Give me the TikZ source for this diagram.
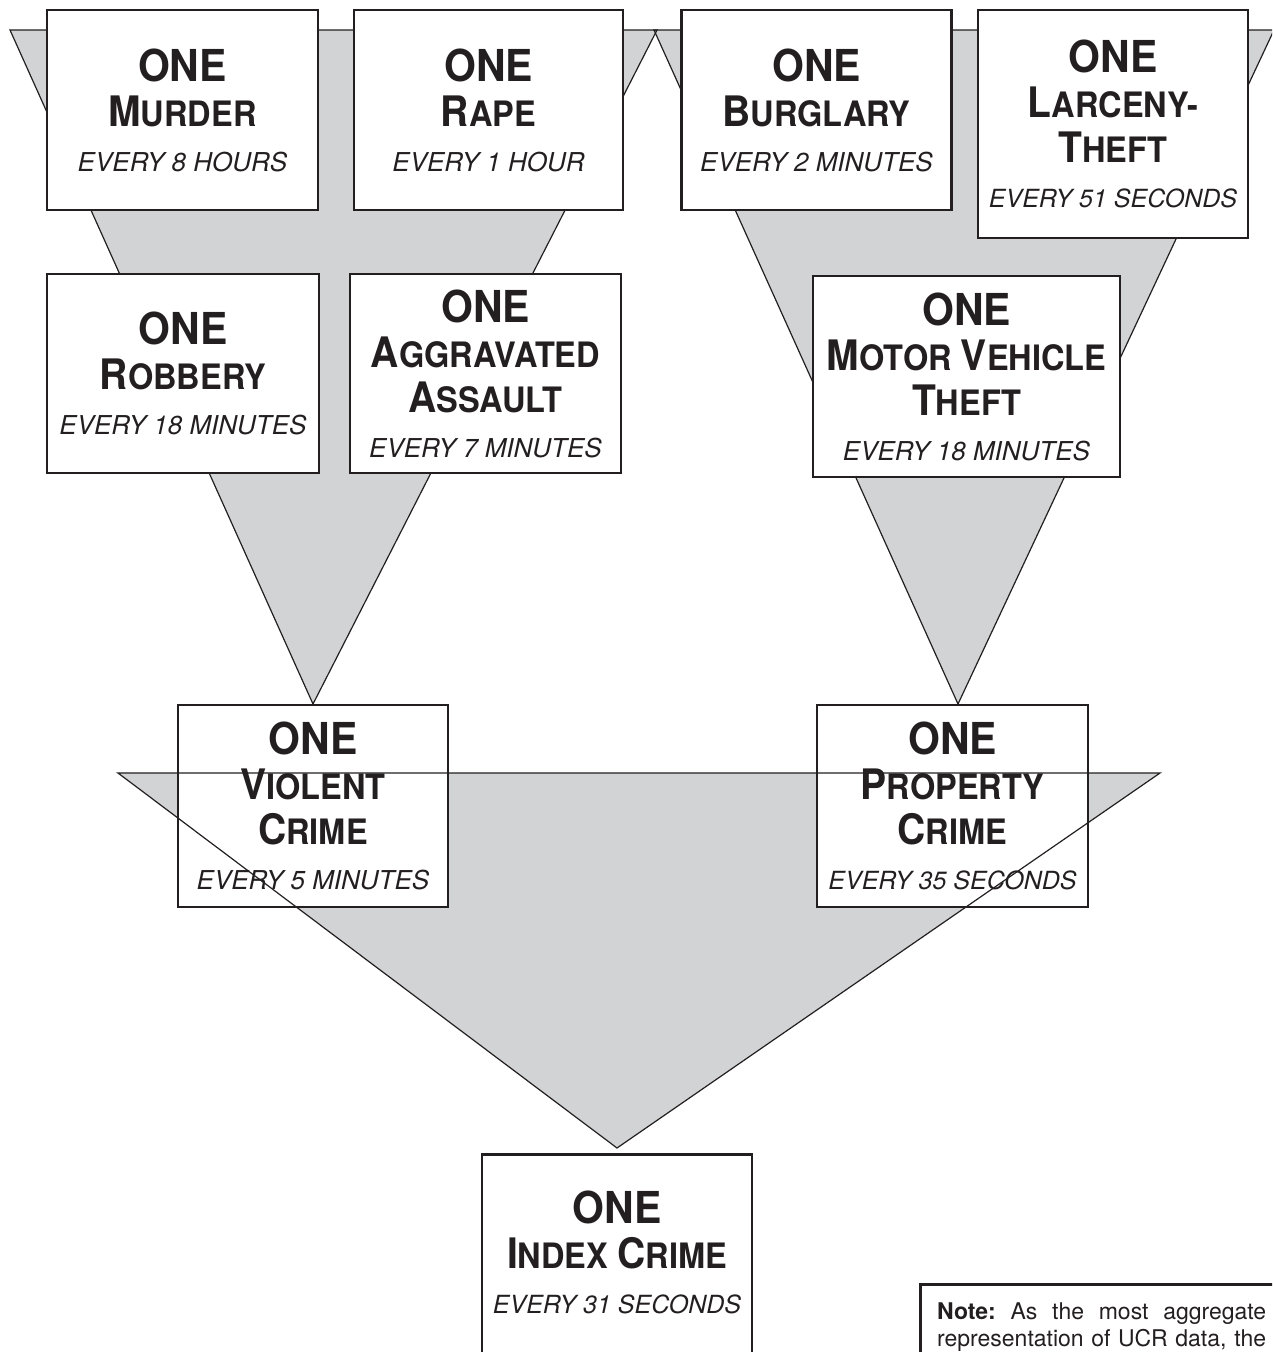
\documentclass[tikz,border=0pt]{standalone}
\usepackage{fontspec}
\setmainfont{TeX Gyre Heros}
\newfontfamily\condfont{TeX Gyre Heros}[FakeStretch=0.93]
\definecolor{fgray}{RGB}{209,211,212}
\definecolor{ink}{RGB}{35,31,32}
\newcommand{\ONE}{{\condfont\bfseries\fontsize{44}{45}\selectfont ONE}}
\newcommand{\SC}[2]{{\condfont\bfseries\fontsize{42}{45}\selectfont #1\fontsize{35}{45}\selectfont #2}}
\newcommand{\EV}[1]{{\itshape\fontsize{26}{45}\selectfont #1}}
\newcommand{\EVS}[1]{{\itshape\fontsize{25}{45}\selectfont #1}}
\tikzset{
  crimebox/.style={draw=ink, line width=2.5pt, fill=white, inner sep=0pt,
    align=center, font=\fontsize{26}{45}\selectfont, text=ink},
  funnelfill/.style={fill=fgray},
  funneledge/.style={draw=ink, line width=1.2pt},
  boxtext/.style={inner sep=0pt, align=center, font=\fontsize{26}{45}\selectfont, text=ink}
}
\begin{document}
\begin{tikzpicture}[x=1pt,y=-1pt]
\useasboundingbox (0,0) rectangle (1272,1352);
\clip (0,0) rectangle (1272,1352);
\fill[white] (0,0) rectangle (1272,1352);

% top funnels
\coordinate (la) at (10,30);
\coordinate (lb) at (657,30);
\coordinate (lc) at (313,704);
\coordinate (ra) at (654,30);
\coordinate (rb) at (1274,30);
\coordinate (rc) at (958,704);
\path[funnelfill] (la) -- (lb) -- (lc) -- cycle;
\path[funnelfill] (ra) -- (rb) -- (rc) -- cycle;
\path[funneledge] (la) -- (lb) -- (lc) -- cycle;
\path[funneledge] (ra) -- (rb) -- (rc) -- cycle;

% top row boxes
\node[crimebox, minimum width=271, minimum height=200] (murder) at (182.5,110)
  {\ONE\\\SC{M}{URDER}\\\EV{EVERY 8 HOURS}};
\node[crimebox, minimum width=269, minimum height=200] (rape) at (488.5,110)
  {\ONE\\\SC{R}{APE}\\\EV{EVERY 1 HOUR}};
\node[crimebox, minimum width=270, minimum height=200] (burglary) at (816.5,110)
  {\ONE\\\SC{B}{URGLARY}\\\EV{EVERY 2 MINUTES}};
\node[crimebox, minimum width=270, minimum height=228] (larceny) at (1113,124)
  {\ONE\\\SC{L}{ARCENY-}\\\SC{T}{HEFT}\\\EVS{EVERY 51 SECONDS}};

% second row boxes
\node[crimebox, minimum width=272, minimum height=199] (robbery) at (183,373.5)
  {\ONE\\\SC{R}{OBBERY}\\\EV{EVERY 18 MINUTES}};
\node[crimebox, minimum width=271, minimum height=199] (aggravated) at (485.5,373.5)
  {\ONE\\\SC{A}{GGRAVATED}\\\SC{A}{SSAULT}\\\EV{EVERY 7 MINUTES}};
\node[crimebox, minimum width=307, minimum height=201] (motor) at (966.5,376.5)
  {\ONE\\\SC{M}{OTOR }\SC{V}{EHICLE}\\\SC{T}{HEFT}\\\EV{EVERY 18 MINUTES}};

% bottom funnel
\coordinate (ba) at (118,773);
\coordinate (bb) at (1160,773);
\coordinate (bc) at (617,1148);
\path[funnelfill] (ba) -- (bb) -- (bc) -- cycle;

\node[crimebox, minimum width=270, minimum height=202] (violent) at (313,806)
  {\ONE\\\SC{V}{IOLENT}\\\SC{C}{RIME}\\\EV{EVERY 5 MINUTES}};
\node[crimebox, minimum width=271, minimum height=202] (property) at (952.5,806)
  {\ONE\\\SC{P}{ROPERTY}\\\SC{C}{RIME}\\\EVS{EVERY 35 SECONDS}};

\path[funneledge] (ba) -- (bb) -- (bc) -- cycle;

% index crime box
\node[crimebox, minimum width=270, minimum height=300, anchor=north] (index) at (617,1153) {};
\node[boxtext] (indextxt) at (617,1252.5)
  {\ONE\\\SC{I}{NDEX }\SC{C}{RIME}\\\EVS{EVERY 31 SECONDS}};

% note box
\node[crimebox, minimum width=420, minimum height=200, anchor=north west] (note) at (919,1283) {};
\node[inner sep=0pt, anchor=north west, align=left, text=ink,
      font=\fontsize{23}{27}\selectfont] (notetxt) at (937,1303)
  {\makebox[329pt][s]{\textbf{Note:}\ As the most aggregate}\\
   \makebox[329pt][s]{representation of UCR data, the}};
\end{tikzpicture}
\end{document}
